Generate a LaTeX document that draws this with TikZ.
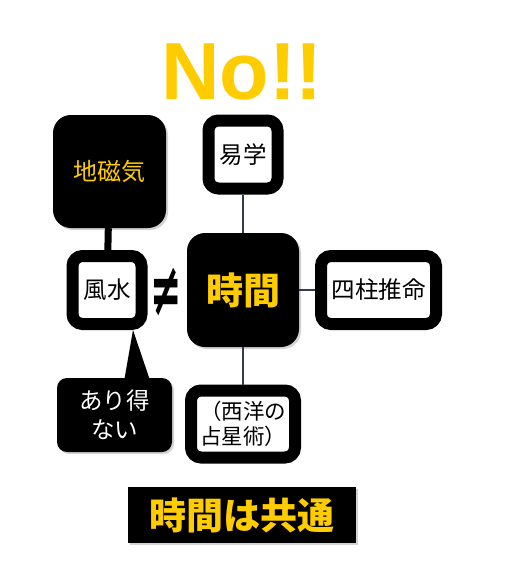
\documentclass[tikz,border=0pt]{standalone}
\usepackage{fontspec}
\newfontfamily\jp{Noto Sans CJK JP}
\newfontfamily\lat{Liberation Sans}
\newfontfamily\sym{DejaVu Sans}
\usetikzlibrary{shadows,calc}
\definecolor{gold}{RGB}{255,204,0}
\definecolor{slate}{RGB}{50,62,79}
\begin{document}
\begin{tikzpicture}[x=1pt,y=-1pt,
  shade/.style={drop shadow={shadow xshift=2pt,shadow yshift=-2pt,opacity=0.35}},
  darkbox/.style={shade, fill=black, rounded corners=18pt, font=\jp\fontsize{24}{28}\selectfont, text=gold, align=center},
  framebox/.style={shade, draw=black, fill=white, line width=12pt, rounded corners=10pt, font=\jp\fontsize{23.5}{29}\selectfont, align=center},
  link/.style={slate, line width=1.6pt}]
  \useasboundingbox (0,0) rectangle (509,566);
  \node[font=\lat\bfseries\fontsize{81}{84}\selectfont, text=gold] (no) at (242,72) {No!!};
  % left column
  \node[darkbox, minimum width=113pt, minimum height=113pt] (chijiki) at (109.5,171.5) {地磁気};
  \node[framebox, minimum width=69pt, minimum height=68pt] (fusui) at (107,290) {風水};
  \draw[line width=7pt] (chijiki) -- (fusui);
  \node[font=\sym\bfseries\fontsize{50}{54}\selectfont, inner sep=0pt] (neq) at (166,292) {\scalebox{0.75}[1.5]{≠}};
  \node[darkbox, rounded corners=10pt, font=\jp\fontsize{23.5}{29}\selectfont, text=white, minimum width=115pt, minimum height=74pt] (arinai) at (114.5,415) {あり得\\ない};
  \coordinate (tip) at (133,330);
  \fill ($(arinai.north)+(10,1)$) -- (tip) -- ($(arinai.north)+(35,1)$) -- cycle;
  % centre
  \node[darkbox, font=\jp\bfseries\fontsize{37}{42}\selectfont, minimum width=112pt, minimum height=114pt] (jikan) at (243,290) {時間};
  \node[framebox, minimum width=69pt, minimum height=68pt] (ekigaku) at (243,154.5) {易学};
  \node[framebox, minimum width=115pt, minimum height=68pt] (shichu) at (378.5,290) {四柱推命};
  \node[framebox, font=\jp\fontsize{21.5}{25}\selectfont, inner sep=0pt, minimum width=104pt, minimum height=67pt] (seiyo) at (243,424) {（西洋の\\占星術）};
  \draw[link] (ekigaku) -- (jikan);
  \draw[link] (jikan) -- (shichu);
  \draw[link] (jikan) -- (seiyo);
  % bottom
  \node[shade, fill=black, text=gold, font=\jp\bfseries\fontsize{37}{40}\selectfont, minimum width=228pt, minimum height=56pt] (kyotsu) at (242,515) {時間は共通};
\end{tikzpicture}
\end{document}
